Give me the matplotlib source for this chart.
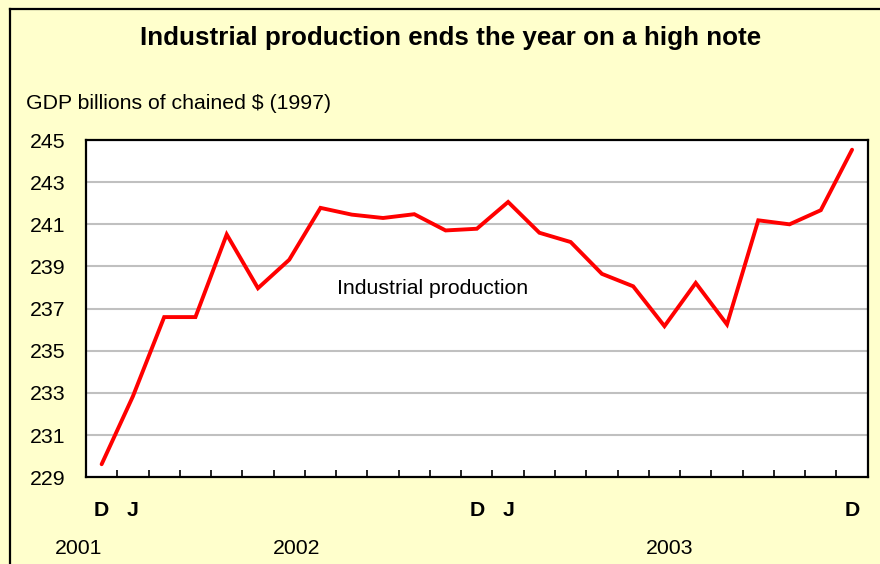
import matplotlib
matplotlib.use("Agg")
import matplotlib.pyplot as plt
from matplotlib.lines import Line2D
import matplotlib.transforms as mtransforms

plt.rcParams['font.family'] = ['Liberation Sans', 'DejaVu Sans']

# ---- data ----
months = ["D", "J", "F", "M", "A", "M", "J", "J", "A", "S", "O", "N", "D",
          "J", "F", "M", "A", "M", "J", "J", "A", "S", "O", "N", "D"]
production = [229.62, 232.84, 236.6, 236.6, 240.52, 237.97, 239.32, 241.78,
              241.46, 241.30, 241.48, 240.71, 240.79, 242.06, 240.60, 240.16,
              238.65, 238.06, 236.17, 238.22, 236.25, 241.19, 241.0, 241.67, 244.54]
shown_month_idx = [0, 1, 12, 13, 24]
year_labels = ["2001", "2002", "2003"]
year_pos = [-0.75, 6.25, 18.17]
y_ticks = [229, 231, 233, 235, 237, 239, 241, 243, 245]

W, H = 880, 564
DPI = 100
BG = "#FFFFCC"
FS = 15.3

fig = plt.figure(figsize=(W / DPI, H / DPI), dpi=DPI, facecolor=BG)

def px(x0, y0, x1, y1):
    return [x0 / W, 1 - y1 / H, (x1 - x0) / W, (y1 - y0) / H]

ax = fig.add_axes(px(86, 140, 867.7, 477.3))
ax.set_facecolor("white")

x = list(range(len(production)))
ax.plot(x, production, color="#FF0000", lw=2.8, solid_joinstyle="miter",
        solid_capstyle="round", zorder=3, clip_on=False)

ax.set_xlim(-0.5, len(production) - 0.5)
ax.set_ylim(229, 245)
ax.set_yticks(y_ticks)
ax.set_yticklabels([str(v) for v in y_ticks], fontsize=FS)
for v in y_ticks[1:-1]:
    ax.axhline(v, color="#C0C0C0", lw=1.5, zorder=1)
ax.tick_params(axis="y", length=0, pad=15)

# x ticks between categories
ax.set_xticks([i - 0.5 for i in range(1, len(production))], minor=True)
ax.set_xticks([])
ax.tick_params(axis="x", which="minor", direction="in", length=5, width=1.2, color="black")

for s in ax.spines.values():
    s.set_linewidth(1.6)
    s.set_color("black")

trans = mtransforms.blended_transform_factory(ax.transData, fig.transFigure)
for i in shown_month_idx:
    ax.text(i, 1 - 510 / H, months[i], transform=trans, ha="center", va="center",
            fontsize=FS, fontweight="bold", clip_on=False)
for lab, p in zip(year_labels, year_pos):
    ax.text(p, 1 - 549 / H, lab, transform=trans, ha="center", va="center",
            fontsize=FS, clip_on=False)

fig.text(433 / W, 1 - 289 / H, "Industrial production", ha="center", va="center",
         fontsize=FS)

fig.text(451 / W, 1 - 38 / H, "Industrial production ends the year on a high note",
         ha="center", va="center", fontsize=18.7, fontweight="bold")
fig.text(26 / W, 1 - 103 / H, "GDP billions of chained $ (1997)", ha="left",
         va="center", fontsize=FS)

# outer frame (cropped: only top and left visible)
fig.add_artist(Line2D([9.5 / W, 9.5 / W], [0, 1 - 8.5 / H], transform=fig.transFigure,
                      color="black", lw=1.6))
fig.add_artist(Line2D([9.5 / W, 1], [1 - 8.5 / H, 1 - 8.5 / H], transform=fig.transFigure,
                      color="black", lw=1.6))

fig.savefig("out.png", dpi=DPI, facecolor=BG)
